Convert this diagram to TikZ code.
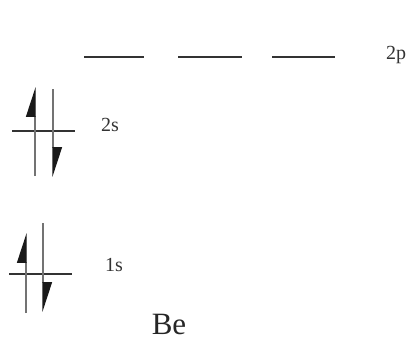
\documentclass[tikz,border=0pt]{standalone}
\usepackage{fontspec}
\setmainfont{Liberation Serif}
\usetikzlibrary{arrows.meta}
\begin{document}
\begin{tikzpicture}[x=1pt,y=-1pt,
  level/.style={line width=2pt,black!80},
  spinline/.style={line width=1.2pt,black!55},
  spinup/.style={spinline,-{Triangle[harpoon,length=28pt,width=18pt,black!90]}},
  spindown/.style={spinline,-{Triangle[harpoon,length=28pt,width=18pt,black!90]}},
  orblabel/.style={font=\fontsize{20}{20}\selectfont,text=black!80}]
\useasboundingbox (0,0) rectangle (415,340);
% empty 2p orbitals
\foreach \xa/\xb in {84/144,178/242,272/335}{
  \draw[level] (\xa,57) -- (\xb,57);}
\node[orblabel] (lbl2p) at (396,55) {2p};
% 2s pair
\draw[level] (12,131) -- (75,131);
\draw[spinup] (35,176) -- (35,87);
\draw[spindown] (53,89) -- (53,177);
\node[orblabel] (lbl2s) at (110,125) {2s};
% 1s pair
\draw[level] (9,274) -- (72,274);
\draw[spinup] (26,313) -- (26,233);
\draw[spindown] (43,223) -- (43,312);
\node[orblabel] (lbl1s) at (114,265) {1s};
% element
\node[font=\fontsize{31}{31}\selectfont,text=black!85] (elem) at (169,324) {Be};
\end{tikzpicture}
\end{document}
